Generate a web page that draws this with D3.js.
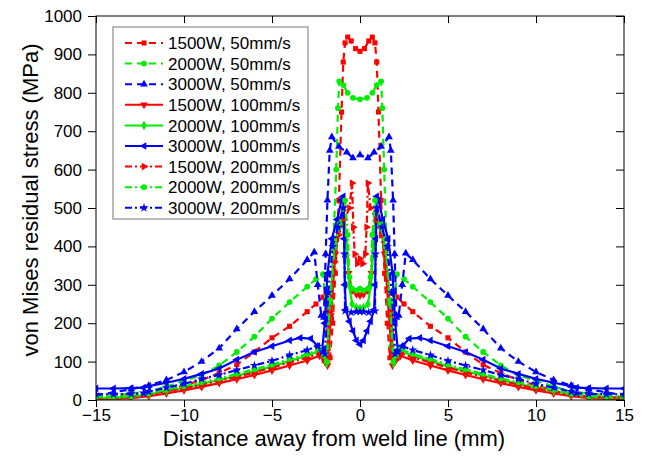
<!DOCTYPE html>
<html>
<head>
<meta charset="utf-8">
<script src="https://cdn.jsdelivr.net/npm/d3@7"></script>
<style>
  html, body { margin: 0; padding: 0; background: #fff; }
  svg { display: block; font-family: "Liberation Sans", Arial, sans-serif; }
</style>
</head>
<body>
<svg id="chart" width="649" height="457"></svg>
<script>
// ---------------- DATA ----------------
const xTicks = [-15, -10, -5, 0, 5, 10, 15];
const yTicks = [0, 100, 200, 300, 400, 500, 600, 700, 800, 900, 1000];
const seriesNames = ["1500W, 50mm/s", "2000W, 50mm/s", "3000W, 50mm/s",
                     "1500W, 100mm/s", "2000W, 100mm/s", "3000W, 100mm/s",
                     "1500W, 200mm/s", "2000W, 200mm/s", "3000W, 200mm/s"];

const s1500_50 = [[-15,5],[-14,7],[-13,10],[-12,15],[-11,25],[-10,38],[-9,52],[-8,70],[-7,92],[-6,125],[-5,162],[-4,192],[-3,230],[-2.5,250],[-2.1,268],[-1.9,278],
  [-1.8,180],[-1.7,110],[-1.55,200],[-1.4,330],[-1.2,520],[-1.05,750],[-0.95,880],[-0.85,930],[-0.7,945],[-0.5,935],[-0.25,915],[0,908],
  [0.25,915],[0.5,935],[0.7,945],[0.85,930],[0.95,880],[1.05,750],[1.2,520],[1.4,330],[1.55,200],[1.7,110],[1.8,180],
  [1.9,278],[2.1,268],[2.5,250],[3,230],[4,192],[5,162],[6,125],[7,92],[8,70],[9,52],[10,38],[11,25],[12,15],[13,10],[14,7],[15,5]];

const s2000_50 = [[-15,8],[-14,12],[-13,17],[-12,22],[-11,35],[-10,50],[-9,65],[-8,90],[-7,125],[-6,165],[-5,212],[-4,255],[-3,295],[-2.5,315],[-2.1,328],
  [-1.95,250],[-1.8,140],[-1.65,250],[-1.5,420],[-1.35,600],[-1.25,760],[-1.18,830],[-0.95,820],[-0.7,800],[-0.4,787],[0,783],
  [0.4,787],[0.7,800],[0.95,820],[1.2,830],[1.27,760],[1.37,600],[1.5,420],[1.65,250],[1.8,140],[1.95,250],
  [2.1,328],[2.5,315],[3,295],[4,255],[5,212],[6,165],[7,125],[8,90],[9,65],[10,50],[11,35],[12,22],[13,17],[14,12],[15,8]];

const s3000_50 = [[-15,12],[-14,20],[-13,28],[-12,38],[-11,52],[-10,73],[-9,100],[-8,135],[-7,185],[-6,230],[-5,272],[-4,315],[-3,365],[-2.6,385],
  [-2.4,300],[-2.2,220],[-2.05,215],[-1.95,380],[-1.85,520],[-1.72,650],[-1.6,685],[-1.2,660],[-0.75,645],[-0.4,630],[0,638],
  [0.45,630],[0.8,645],[1.2,660],[1.65,685],[1.75,650],[1.88,520],[1.97,380],[2.07,215],[2.2,220],[2.4,300],
  [2.6,382],[3,365],[4,315],[5,272],[6,230],[7,185],[8,135],[9,100],[10,73],[11,52],[12,38],[13,28],[14,20],[15,12]];

const s1500_100 = [[-15,2],[-14,3],[-13,5],[-12,10],[-11,17],[-10,25],[-9,34],[-8,44],[-7,54],[-6,65],[-5,77],[-4,90],[-3,103],[-2.3,115],
  [-2.0,100],[-1.85,90],[-1.65,220],[-1.4,380],[-1.15,470],[-0.95,500],[-0.8,430],[-0.65,330],[-0.45,285],[-0.2,275],[0,272],
  [0.2,275],[0.45,285],[0.65,330],[0.8,430],[0.95,500],[1.15,470],[1.4,380],[1.65,220],[1.85,90],[2.0,100],
  [2.3,115],[3,103],[4,90],[5,77],[6,65],[7,54],[8,44],[9,34],[10,25],[11,17],[12,10],[13,5],[14,3],[15,2]];

const s2000_100 = [[-15,5],[-14,6],[-13,8],[-12,15],[-11,23],[-10,32],[-9,42],[-8,52],[-7,63],[-6,75],[-5,87],[-4,102],[-3,115],[-2.3,128],
  [-2.05,110],[-1.9,95],[-1.7,250],[-1.45,390],[-1.15,450],[-0.9,470],[-0.75,400],[-0.62,300],[-0.45,250],[-0.2,240],[0,238],
  [0.2,240],[0.45,250],[0.62,300],[0.75,400],[0.9,470],[1.15,450],[1.45,390],[1.7,250],[1.9,95],[2.05,110],
  [2.3,128],[3,115],[4,102],[5,87],[6,75],[7,63],[8,52],[9,42],[10,32],[11,23],[12,15],[13,8],[14,6],[15,5]];

const s3000_100 = [[-15,30],[-14,30],[-13,31],[-12.3,32],[-12,36],[-11,45],[-10,55],[-9,68],[-8,82],[-7,105],[-6,125],[-5,140],[-4,155],[-3.4,162],[-2.8,160],[-2.4,140],
  [-2.15,130],[-2.0,200],[-1.85,330],[-1.6,420],[-1.3,470],[-1.05,520],[-0.95,530],[-0.9,420],[-0.86,300],[-0.8,235],[-0.6,205],[-0.4,180],[-0.2,155],[0,145],
  [0.2,155],[0.4,180],[0.6,205],[0.8,235],[0.86,300],[0.9,420],[0.95,530],[1.05,520],[1.3,470],[1.6,420],[1.85,330],[2.0,200],[2.15,130],
  [2.4,140],[2.8,160],[3.4,162],[4,155],[5,140],[6,125],[7,105],[8,82],[9,68],[10,55],[11,45],[12,36],[12.3,32],[13,31],[14,30],[15,30]];

const s1500_200 = [[-15,6],[-14,7],[-13,9],[-12,15],[-11,23],[-10,30],[-9,40],[-8,50],[-7,60],[-6,72],[-5,84],[-4,98],[-3,110],[-2.3,122],
  [-2.05,105],[-1.9,100],[-1.7,230],[-1.45,360],[-1.2,430],[-0.9,470],[-0.6,500],[-0.45,565],[-0.38,450],[-0.3,380],[-0.15,355],[0,368],
  [0.15,355],[0.3,380],[0.38,450],[0.45,565],[0.6,500],[0.9,470],[1.2,430],[1.45,360],[1.7,230],[1.9,100],[2.05,105],
  [2.3,122],[3,110],[4,98],[5,84],[6,72],[7,60],[8,50],[9,40],[10,30],[11,23],[12,15],[13,9],[14,7],[15,6]];

const s2000_200 = [[-15,8],[-14,9],[-13,10],[-12,17],[-11,26],[-10,36],[-9,46],[-8,56],[-7,68],[-6,80],[-5,92],[-4,107],[-3,120],[-2.3,132],
  [-2.05,115],[-1.9,100],[-1.7,260],[-1.45,400],[-1.15,460],[-0.85,520],[-0.7,430],[-0.6,320],[-0.45,290],[-0.2,285],[0,290],
  [0.2,285],[0.45,290],[0.6,320],[0.7,430],[0.85,520],[1.15,460],[1.45,400],[1.7,260],[1.9,100],[2.05,115],
  [2.3,132],[3,120],[4,107],[5,92],[6,80],[7,68],[8,56],[9,46],[10,36],[11,26],[12,17],[13,10],[14,9],[15,8]];

const s3000_200 = [[-15,15],[-14,15],[-13,16],[-12.3,18],[-12,22],[-11,32],[-10,42],[-9,55],[-8,65],[-7,78],[-6,90],[-5,102],[-4,117],[-3,130],[-2.4,140],
  [-2.15,125],[-2.0,120],[-1.8,280],[-1.55,400],[-1.25,450],[-0.95,500],[-0.88,380],[-0.85,232],[-0.5,228],[-0.2,230],[0,230],
  [0.2,230],[0.5,228],[0.85,232],[0.88,380],[0.95,500],[1.25,450],[1.55,400],[1.8,280],[2.0,120],[2.15,125],
  [2.4,140],[3,130],[4,117],[5,102],[6,90],[7,78],[8,65],[9,55],[10,42],[11,32],[12,22],[12.3,18],[13,16],[14,15],[15,15]];

const seriesData = [s1500_50, s2000_50, s3000_50, s1500_100, s2000_100, s3000_100, s1500_200, s2000_200, s3000_200];

// ---------------- STYLE ----------------
const colors = ["#ff0000", "#00ee00", "#0000ff"];
const dashes = ["7,5", null, "7,3,2,3"];
const markers = [
  {t: d3.symbolSquare, r: 0}, {t: d3.symbolCircle, r: 0}, {t: d3.symbolTriangle, r: 0},
  {t: d3.symbolTriangle, r: 180}, {t: d3.symbolDiamond, r: 0}, {t: d3.symbolTriangle, r: -90},
  {t: d3.symbolTriangle, r: 90}, {t: d3.symbolCircle, r: 0}, {t: d3.symbolStar, r: 0}
];

const svg = d3.select("#chart");
const L = 96, R = 624, T = 16, B = 400;
const x = d3.scaleLinear().domain([-15, 15]).range([L, R]);
const y = d3.scaleLinear().domain([0, 1000]).range([B, T]);

svg.append("defs").append("clipPath").attr("id", "clip")
  .append("rect").attr("x", L).attr("y", T - 2).attr("width", R - L).attr("height", B - T + 2);

const plot = svg.append("g").attr("clip-path", "url(#clip)");
const line = d3.line().x(d => x(d[0])).y(d => y(d[1]));

seriesData.forEach((data, i) => {
  const c = colors[i % 3];
  const dash = dashes[Math.floor(i / 3)];
  plot.append("path").datum(data)
    .attr("d", line).attr("fill", "none").attr("stroke", c)
    .attr("stroke-width", 2.2).attr("stroke-dasharray", dash);
  const sym = d3.symbol().type(markers[i].t).size(26);
  plot.append("g").selectAll("path").data(data).join("path")
    .attr("d", sym)
    .attr("transform", d => `translate(${x(d[0])},${y(d[1])}) rotate(${markers[i].r})`)
    .attr("fill", c);
});

// ---------------- AXES ----------------
const fs = 17;
const xMinor = d3.range(-15, 15.01, 2.5);
const yMinor = d3.range(0, 1000.1, 50);

const gx = svg.append("g").attr("transform", `translate(0,${B})`);
gx.call(d3.axisBottom(x).tickValues(xMinor).tickSize(4).tickFormat("").tickSizeOuter(0));
gx.call(d3.axisBottom(x).tickValues(xTicks).tickSize(7).tickPadding(2).tickSizeOuter(0).tickFormat(d3.format("d")));
gx.selectAll("text").attr("font-size", fs).attr("font-family", "Liberation Sans, Arial, sans-serif").attr("fill", "#000");

const gy = svg.append("g").attr("transform", `translate(${L},0)`);
gy.call(d3.axisLeft(y).tickValues(yMinor).tickSize(4).tickFormat("").tickSizeOuter(0));
gy.call(d3.axisLeft(y).tickValues(yTicks).tickSize(8).tickPadding(6).tickSizeOuter(0).tickFormat(d3.format("d")));
gy.selectAll("text").attr("font-size", fs).attr("font-family", "Liberation Sans, Arial, sans-serif").attr("fill", "#000");

const gt = svg.append("g").attr("transform", `translate(0,${T})`);
gt.call(d3.axisBottom(x).tickValues(xMinor).tickSize(4).tickFormat("").tickSizeOuter(0));
gt.call(d3.axisBottom(x).tickValues(xTicks).tickSize(7).tickFormat("").tickSizeOuter(0));

const gr = svg.append("g").attr("transform", `translate(${R},0)`);
gr.call(d3.axisLeft(y).tickValues(yMinor).tickSize(4).tickFormat("").tickSizeOuter(0));
gr.call(d3.axisLeft(y).tickValues(yTicks).tickSize(8).tickFormat("").tickSizeOuter(0));

svg.selectAll(".domain").remove();
svg.append("rect").attr("x", L).attr("y", T).attr("width", R - L).attr("height", B - T)
  .attr("fill", "none").attr("stroke", "#000").attr("stroke-width", 1);
svg.selectAll(".tick line").attr("stroke", "#000");

// titles
svg.append("text").attr("x", 334).attr("y", 446).attr("text-anchor", "middle")
  .attr("font-size", 22).text("Distance away from weld line (mm)");
svg.append("text").attr("transform", `translate(38,${(T + B) / 2 - 8}) rotate(-90)`)
  .attr("text-anchor", "middle").attr("font-size", 22).text("von Mises residual stress (MPa)");

// ---------------- LEGEND ----------------
const lg = svg.append("g");
lg.append("rect").attr("x", 113).attr("y", 27).attr("width", 195).attr("height", 192)
  .attr("fill", "#fff").attr("stroke", "#777").attr("stroke-width", 1);
seriesNames.forEach((name, i) => {
  const cy = 43 + i * 20.6;
  const c = colors[i % 3];
  lg.append("line").attr("x1", 125).attr("x2", 163).attr("y1", cy).attr("y2", cy)
    .attr("stroke", c).attr("stroke-width", 2).attr("stroke-dasharray", dashes[Math.floor(i / 3)]);
  lg.append("path").attr("d", d3.symbol().type(markers[i].t).size(26))
    .attr("transform", `translate(144,${cy}) rotate(${markers[i].r})`).attr("fill", c);
  lg.append("text").attr("x", 168).attr("y", cy).attr("dy", "0.36em")
    .attr("font-size", fs).text(name);
});
</script>
</body>
</html>
